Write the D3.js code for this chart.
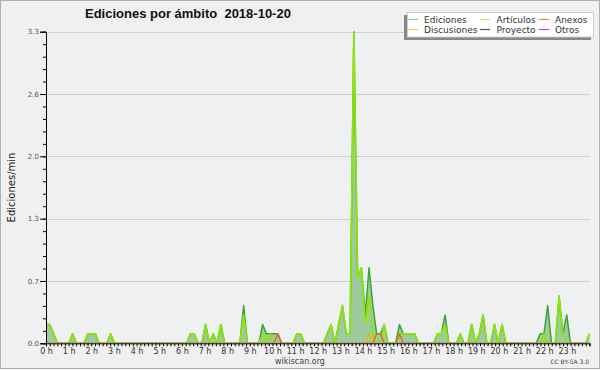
<!DOCTYPE html>
<html>
<head>
<meta charset="utf-8">
<script src="https://cdn.jsdelivr.net/npm/d3@7"></script>
<style>
  body { margin: 0; background: #f0f0f0; }
  svg { display: block; font-family: "DejaVu Sans", sans-serif; }
</style>
</head>
<body>
<svg id="chart" width="600" height="370"></svg>
<script>
// edits per minute, one value per 10 minutes (6 per hour)
var ediciones = [
  0.2,0.2,0.1,0,0,0,      0,0.1,0,0,0,0.1,      0.1,0.1,0,0,0,0.1,    0,0,0,0,0,0,
  0,0,0,0,0,0,            0,0,0,0,0,0,          0,0,0.1,0.1,0,0,      0.2,0,0.1,0,0.2,0,
  0,0,0,0,0.4,0,          0,0,0,0.2,0.1,0.1,    0.1,0.1,0,0,0,0,      0.1,0.1,0,0,0,0,
  0,0,0.1,0.2,0,0.2,      0.4,0.1,0.1,3.3,0.7,0.8, 0.3,0.8,0.4,0.1,0.1,0.2, 0,0,0,0.2,0.1,0.1,
  0.1,0.1,0,0,0,0,        0,0.1,0.1,0.3,0,0,    0,0.1,0,0,0.2,0,      0.1,0.3,0,0,0.2,0,
  0.2,0,0,0,0,0,          0,0,0,0,0.1,0.1,      0.4,0,0,0.5,0.1,0.3,  0,0,0,0,0,0.1
];
var articulos = [
  0.2,0.2,0.1,0,0,0,      0,0.1,0,0,0,0.1,      0.1,0.1,0,0,0,0.1,    0,0,0,0,0,0,
  0,0,0,0,0,0,            0,0,0,0,0,0,          0,0,0.1,0.1,0,0,      0.2,0,0.1,0,0.2,0,
  0,0,0,0,0.3,0,          0,0,0,0.1,0,0.1,      0,0,0,0,0,0,          0.1,0.1,0,0,0,0,
  0,0,0.1,0.2,0,0.2,      0.4,0.1,0.1,3.3,0.7,0.8, 0.2,0.5,0.1,0,0,0.2, 0,0,0,0.1,0.1,0.1,
  0.1,0.1,0,0,0,0,        0,0.1,0.1,0.2,0,0,    0,0.1,0,0,0.2,0,      0.1,0.3,0,0,0.2,0,
  0.2,0,0,0,0,0,          0,0,0,0,0,0.1,        0,0,0,0.5,0.1,0,      0,0,0,0,0,0.1
];
var anexos = [
  0,0,0,0,0,0, 0,0,0,0,0,0, 0,0,0,0,0,0, 0,0,0,0,0,0,
  0,0,0,0,0,0, 0,0,0,0,0,0, 0,0,0,0,0,0, 0,0,0,0,0,0,
  0,0,0,0,0,0, 0,0,0,0,0,0, 0,0.1,0,0,0,0, 0,0,0,0,0,0,
  0,0,0,0,0,0, 0,0,0,0,0,0, 0,0,0,0.1,0.1,0, 0,0,0,0.1,0,0,
  0,0,0,0,0,0, 0,0,0,0,0,0, 0,0,0,0,0,0, 0,0,0,0,0,0,
  0,0,0,0,0,0, 0,0,0,0,0,0, 0,0,0,0,0,0, 0,0,0,0,0,0
];
var discusiones = [
  0,0,0,0,0,0, 0,0,0,0,0,0, 0,0,0,0,0,0, 0,0,0,0,0,0,
  0,0,0,0,0,0, 0,0,0,0,0,0, 0,0,0,0,0,0, 0,0,0,0,0,0,
  0,0,0,0,0,0, 0,0,0,0,0,0, 0,0,0,0,0,0, 0,0,0,0,0,0,
  0,0,0,0,0,0, 0,0,0,0,0,0, 0,0.1,0,0,0,0, 0,0,0,0,0,0,
  0,0,0,0,0,0, 0,0,0,0,0,0, 0,0,0,0,0,0, 0,0,0,0,0,0,
  0,0,0,0,0,0, 0,0,0,0,0,0, 0,0,0,0,0,0, 0,0,0,0,0,0
];
var proyecto = ediciones.map(function(){ return 0; });
var otros = ediciones.map(function(){ return 0; });

var hourLabels = d3.range(0, 24).map(function(h){ return h + " h"; });
var yMax = 3.3;
var yTicks = [0, 0.66, 1.32, 1.98, 2.64, 3.3];

var legendNames = ["Ediciones", "Discusiones", "Artículos", "Proyecto", "Anexos", "Otros"];
var legendColors = ["#86d086", "#f2d24a", "#cdef55", "#555555", "#f0895a", "#a04df0"];

(function(){
  var svg = d3.select("#chart");
  var pLeft = 46, pRight = 589.5, pTop = 31.7, pBottom = 343.3;

  svg.append("rect").attr("width", 600).attr("height", 370).attr("fill", "#f0f0f0");
  svg.append("rect").attr("x", 0.5).attr("y", 0.5).attr("width", 599).attr("height", 368)
      .attr("fill", "none").attr("stroke", "#b0b0b0");
  svg.append("rect").attr("x", pLeft).attr("y", pTop).attr("width", pRight - pLeft).attr("height", pBottom - pTop)
      .attr("fill", "#eef0f2");

  svg.append("clipPath").attr("id", "plotclip").append("rect")
      .attr("x", pLeft).attr("y", 0).attr("width", pRight - pLeft + 2).attr("height", pBottom - 0.6);

  var t = d3.scaleLinear().domain([0, 24]).range([pLeft, pRight]);
  var x = d3.scaleLinear().domain([0, ediciones.length - 1]).range([pLeft, pRight]);
  var y = d3.scaleLinear().domain([0, yMax]).range([pBottom, pTop]);

  // grid
  svg.append("g").selectAll("line").data(yTicks.slice(1)).enter().append("line")
      .attr("x1", pLeft + 1).attr("x2", pRight)
      .attr("y1", function(d){ return Math.round(y(d)) + 0.5; })
      .attr("y2", function(d){ return Math.round(y(d)) + 0.5; })
      .attr("stroke", "#cfcfcf");

  // series
  var area = d3.area().x(function(d, i){ return x(i); }).y0(pBottom).y1(function(d){ return y(d); });
  var line = d3.line().x(function(d, i){ return x(i); }).y(function(d){ return y(d); });

  var plot = svg.append("g").attr("clip-path", "url(#plotclip)");
  plot.append("path").datum(ediciones).attr("d", area).attr("fill", "#9ecb9e");

  var series = [
    {data: otros, color: "#a04df0", w: 1},
    {data: proyecto, color: "#555555", w: 1},
    {data: ediciones, color: "#3aa43a", w: 1.5},
    {data: articulos, color: "#8fe600", w: 1.6},
    {data: discusiones, color: "#f2b400", w: 1.3},
    {data: anexos, color: "#e8641e", w: 1.3}
  ];
  series.forEach(function(s){
    plot.append("path").datum(s.data).attr("d", line)
        .attr("fill", "none").attr("stroke", s.color).attr("stroke-width", s.w)
        .attr("stroke-linejoin", "round");
  });

  // axes
  var xAxis = d3.axisBottom(t)
      .tickValues(d3.range(0, 145).map(function(k){ return k / 6; }))
      .tickSize(3).tickPadding(2)
      .tickFormat(function(d){
        var k = Math.round(d * 6);
        return (k % 6 === 0 && k / 6 < 24) ? hourLabels[k / 6] : "";
      });
  var gx = svg.append("g").attr("transform", "translate(0," + pBottom + ")").call(xAxis);
  gx.select(".domain").attr("stroke", "#000");
  gx.selectAll(".tick line").attr("stroke", "#000");
  gx.selectAll("text").attr("font-size", 8).attr("fill", "#333").attr("font-family", "DejaVu Sans");

  var yMinor = d3.axisLeft(y).tickValues(d3.range(0, 26).map(function(k){ return k * yMax / 25; }))
      .tickSize(3).tickFormat("");
  svg.append("g").attr("transform", "translate(" + pLeft + ",0)").call(yMinor)
      .call(function(g){ g.select(".domain").remove(); });

  var yAxis = d3.axisLeft(y).tickValues(yTicks).tickSize(6).tickPadding(1).tickFormat(d3.format(".1f"));
  var gy = svg.append("g").attr("transform", "translate(" + pLeft + ",0)").call(yAxis);
  gy.selectAll("text").attr("font-size", 7).attr("fill", "#555").attr("font-family", "DejaVu Sans");

  // titles
  svg.append("text").attr("x", 85).attr("y", 18)
      .attr("font-family", "Liberation Sans, Arial, sans-serif").attr("font-weight", "bold")
      .attr("font-size", 13).attr("fill", "#111").style("white-space", "pre")
      .text("Ediciones por ámbito  2018-10-20");

  svg.append("text").attr("transform", "translate(15," + ((pTop + pBottom) / 2) + ") rotate(-90)")
      .attr("text-anchor", "middle").attr("font-size", 10).attr("fill", "#222")
      .text("Ediciones/min");

  svg.append("text").attr("x", 300).attr("y", 364).attr("text-anchor", "middle")
      .attr("font-size", 8).attr("fill", "#444").text("wikiscan.org");
  svg.append("text").attr("x", 589).attr("y", 364).attr("text-anchor", "end")
      .attr("font-size", 6).attr("fill", "#444").text("CC BY-SA 3.0");

  // legend
  var lg = svg.append("g");
  lg.append("rect").attr("x", 404).attr("y", 15).attr("width", 187).attr("height", 25).attr("fill", "#888");
  lg.append("rect").attr("x", 407.5).attr("y", 12.5).attr("width", 186).attr("height", 24.5)
      .attr("fill", "#fff").attr("stroke", "#ccc");
  var colX = [408, 480, 539], textX = [424, 496.5, 555], rowY = [19, 29];
  legendNames.forEach(function(name, i){
    var c = Math.floor(i / 2), r = i % 2;
    lg.append("line").attr("x1", colX[c]).attr("x2", colX[c] + 10)
        .attr("y1", rowY[r] + 0.5).attr("y2", rowY[r] + 0.5)
        .attr("stroke", legendColors[i]).attr("stroke-width", 1.2);
    lg.append("text").attr("x", textX[c]).attr("y", rowY[r] + 3.5)
        .attr("font-size", 9).attr("fill", "#333").text(name);
  });
})();
</script>
</body>
</html>
